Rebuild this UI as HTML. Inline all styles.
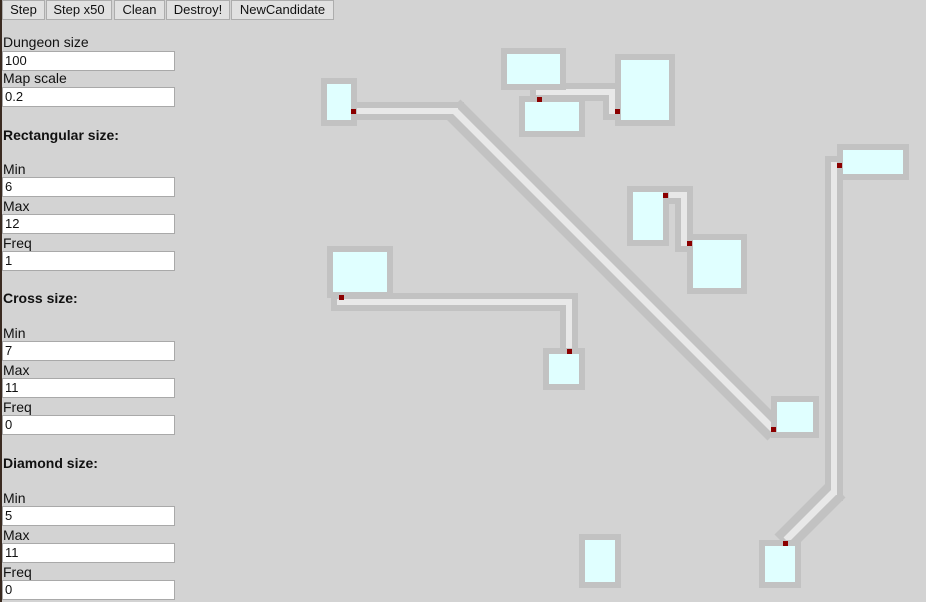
<!DOCTYPE html>
<html><head><style>
body{margin:0;width:926px;height:602px;background:#d3d3d3;font-family:"Liberation Sans",sans-serif;font-size:14px;color:#111;position:relative;overflow:hidden}
.b{position:absolute;top:0;height:20px;background:#e1e1e1;border:1px solid #adadad;box-sizing:border-box;font-size:13px;text-align:center;line-height:18px}
.l{position:absolute;left:3px;font-size:14px}
.h{position:absolute;left:3px;font-weight:bold;font-size:14px}
.i{position:absolute;left:2px;width:173px;height:20px;background:#fff;border:1px solid #a9a9a9;box-sizing:border-box;padding-left:2px;line-height:18px;font-size:13px}
#edge{position:absolute;left:0;top:0;width:2px;height:602px;background:#3a2a20}
</style></head><body>
<div id="edge"></div>
<div class="b" style="left:2px;width:43px">Step</div>
<div class="b" style="left:46px;width:66px">Step x50</div>
<div class="b" style="left:114px;width:51px">Clean</div>
<div class="b" style="left:166px;width:64px">Destroy!</div>
<div class="b" style="left:231px;width:103px">NewCandidate</div>
<div class="l" style="top:34px">Dungeon size</div><div class="i" style="top:51px">100</div>
<div class="l" style="top:70px">Map scale</div><div class="i" style="top:87px">0.2</div>
<div class="h" style="top:127px">Rectangular size:</div>
<div class="l" style="top:161px">Min</div><div class="i" style="top:177px">6</div>
<div class="l" style="top:198px">Max</div><div class="i" style="top:214px">12</div>
<div class="l" style="top:235px">Freq</div><div class="i" style="top:251px">1</div>
<div class="h" style="top:290px">Cross size:</div>
<div class="l" style="top:325px">Min</div><div class="i" style="top:341px">7</div>
<div class="l" style="top:362px">Max</div><div class="i" style="top:378px">11</div>
<div class="l" style="top:399px">Freq</div><div class="i" style="top:415px">0</div>
<div class="h" style="top:455px">Diamond size:</div>
<div class="l" style="top:490px">Min</div><div class="i" style="top:506px">5</div>
<div class="l" style="top:527px">Max</div><div class="i" style="top:543px">11</div>
<div class="l" style="top:564px">Freq</div><div class="i" style="top:580px">0</div>
<svg width="926" height="602" style="position:absolute;left:0;top:0">
<g fill="none" stroke="#c2c2c2" stroke-width="24" stroke-linecap="butt">
<line x1="452" y1="108" x2="776" y2="432"/>
<line x1="837" y1="489" x2="783" y2="543"/>
</g>
<g fill="none" stroke="#c2c2c2" stroke-width="18" stroke-linejoin="miter" stroke-linecap="square">
<polyline points="354,111 455,111"/>
<polyline points="539,92 612,92 612,111"/>
<polyline points="665,195 684,195 684,243"/>
<polyline points="340,302 569,302 569,351"/>
<polyline points="840,165 834,165 834,492"/>
</g>
<g fill="none" stroke="#e8e8e8" stroke-width="7" stroke-linecap="butt">
<line x1="455" y1="111" x2="773" y2="429"/>
<line x1="834" y1="492" x2="786" y2="540"/>
</g>
<g fill="none" stroke="#e8e8e8" stroke-width="6" stroke-linejoin="miter" stroke-linecap="square">
<polyline points="354,111 455,111"/>
<polyline points="539,92 612,92 612,111"/>
<polyline points="665,195 684,195 684,243"/>
<polyline points="340,302 569,302 569,351"/>
<polyline points="840,165 834,165 834,492"/>
</g>
<g fill="#e0ffff" stroke="#c2c2c2" stroke-width="6">
<rect x="324" y="81" width="30" height="42"/>
<rect x="504" y="51" width="59" height="36"/>
<rect x="522" y="99" width="60" height="35"/>
<rect x="618" y="57" width="54" height="66"/>
<rect x="840" y="147" width="66" height="30"/>
<rect x="630" y="189" width="36" height="54"/>
<rect x="690" y="237" width="54" height="54"/>
<rect x="330" y="249" width="60" height="46"/>
<rect x="546" y="351" width="36" height="36"/>
<rect x="774" y="399" width="42" height="36"/>
<rect x="762" y="543" width="36" height="42"/>
<rect x="582" y="537" width="36" height="48"/>
</g>
<g fill="#8b0000">
<rect x="351" y="109" width="5" height="5"/>
<rect x="537" y="97" width="5" height="5"/>
<rect x="615" y="109" width="5" height="5"/>
<rect x="663" y="193" width="5" height="5"/>
<rect x="687" y="241" width="5" height="5"/>
<rect x="339" y="295" width="5" height="5"/>
<rect x="567" y="349" width="5" height="5"/>
<rect x="771" y="427" width="5" height="5"/>
<rect x="837" y="163" width="5" height="5"/>
<rect x="783" y="541" width="5" height="5"/>
</g>
</svg>
</body></html>
